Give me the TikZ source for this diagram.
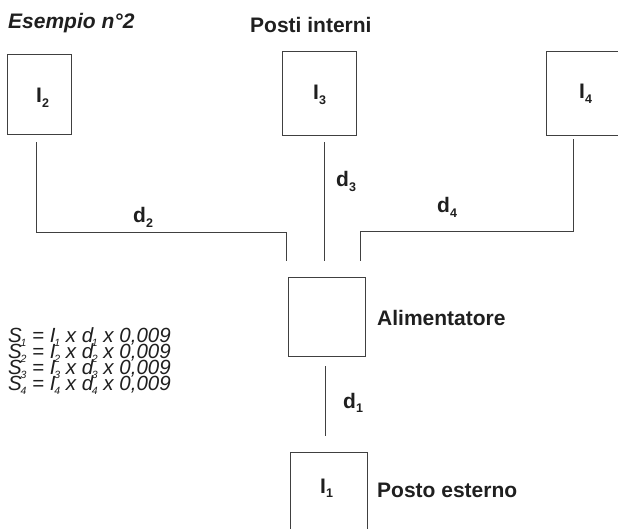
\documentclass[tikz,border=0pt]{standalone}
\usepackage{fontspec}
\setmainfont{Liberation Sans}
\newcommand{\dsub}[1]{\raisebox{-0.2em}{\fontsize{12.5}{12.5}\selectfont #1}}
\newcommand{\fsub}[1]{\kern-0.06em\raisebox{-4.5pt}{\fontsize{10.5}{10.5}\selectfont #1}}
\begin{document}
\begin{tikzpicture}[x=1pt,y=-1pt,
  box/.style={draw=black!75, line width=0.9pt, inner sep=0pt},
  wire/.style={draw=black!75, line width=0.9pt},
  lbl/.style={font=\fontsize{21}{21}\selectfont\bfseries, text=black!88, inner sep=0pt, anchor=base west},
  ttl/.style={font=\fontsize{21}{21}\selectfont\bfseries\itshape, text=black!88, inner sep=0pt, anchor=base west},
  frm/.style={font=\fontsize{20.5}{16}\selectfont\itshape, text=black!88, inner sep=0pt, anchor=base west}]
\useasboundingbox (0,0) rectangle (618,529);
% boxes
\node[box, minimum width=64pt, minimum height=80pt] (B2) at (39,94) {};
\node[box, minimum width=74pt, minimum height=84pt] (B3) at (319,93) {};
\node[box, minimum width=78pt, minimum height=84pt] (B4) at (585,93) {};
\node[box, minimum width=77pt, minimum height=79pt] (PS) at (326.5,316.5) {};
\node[box, minimum width=77pt, minimum height=80pt] (B1) at (328.5,492) {};
% labels in boxes
\node[lbl] (L2) at (36,103) {I\dsub{2}};
\node[lbl] (L3) at (313,100) {I\dsub{3}};
\node[lbl] (L4) at (579,99) {I\dsub{4}};
\node[lbl] (L1) at (320,493) {I\dsub{1}};
% titles
\node[ttl] (T) at (8,29) {Esempio n°2};
\node[lbl] (PI) at (250,33) {Posti interni};
\node[lbl] (AL) at (377,325) {Alimentatore};
\node[lbl] (PE) at (377,497) {Posto esterno};
% wire endpoints
\coordinate (a2) at ([shift={(-3,8)}]B2.south);
\coordinate (c2) at ([shift={(-1,-16)}]PS.north west);
\coordinate (a3) at ([shift={(5,7)}]B3.south);
\coordinate (c3) at ([shift={(-2.5,-16)}]PS.north);
\coordinate (a4) at ([shift={(-12,4)}]B4.south);
\coordinate (c4) at ([shift={(-5,-16)}]PS.north east);
\coordinate (a1) at ([shift={(-1.5,10)}]PS.south);
\coordinate (c1) at ([shift={(-3.5,-16)}]B1.north);
% wires
\draw[wire] (a2) |- (c2 |- 0,232) -- (c2);
\draw[wire] (a3) -- (a3 |- c3);
\draw[wire] (a4) |- (c4 |- 0,231) -- (c4);
\draw[wire] (a1) -- (a1 |- c1);
% wire labels
\node[lbl] (D2) at (133,223) {d\dsub{2}};
\node[lbl] (D3) at (336,187) {d\dsub{3}};
\node[lbl] (D4) at (437,213) {d\dsub{4}};
\node[lbl] (D1) at (343,408) {d\dsub{1}};
% formulas
\node[frm] (F1) at (8,342) {S\fsub{1} = I\fsub{1} x d\fsub{1} x 0,009};
\node[frm] (F2) at (8,358) {S\fsub{2} = I\fsub{2} x d\fsub{2} x 0,009};
\node[frm] (F3) at (8,374) {S\fsub{3} = I\fsub{3} x d\fsub{3} x 0,009};
\node[frm] (F4) at (8,390) {S\fsub{4} = I\fsub{4} x d\fsub{4} x 0,009};
\end{tikzpicture}
\end{document}
